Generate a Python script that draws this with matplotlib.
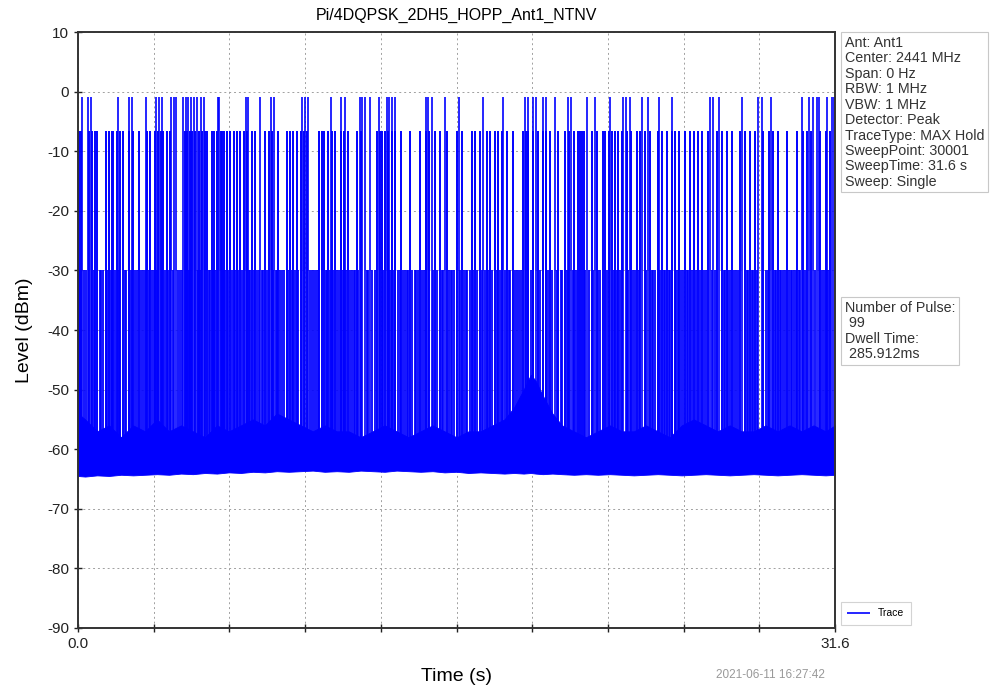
import matplotlib
matplotlib.use('Agg')
import matplotlib.pyplot as plt
import numpy as np

plt.rcParams['font.family'] = ['Liberation Sans', 'DejaVu Sans']
plt.rcParams['axes.unicode_minus'] = False

# sweep / info
sweep_time = 31.6
info_text = ('Ant: Ant1\nCenter: 2441 MHz\nSpan: 0 Hz\nRBW: 1 MHz\nVBW: 1 MHz\n'
             'Detector: Peak\nTraceType: MAX Hold\nSweepPoint: 30001\n'
             'SweepTime: 31.6 s\nSweep: Single')
pulse_text = 'Number of Pulse:\n 99\nDwell Time:\n 285.912ms'

# pulses hitting the centre channel (~ -1 dBm)
peak_times = [0.18, 0.42, 0.54, 1.68, 2.13, 2.27, 2.83, 3.24, 3.38, 3.52, 3.88,
              4.02, 4.10, 4.40, 4.51, 4.60, 4.72, 4.85, 4.95, 5.13, 5.25, 5.83,
              5.89, 7.00, 7.08, 7.60, 8.06, 8.19, 9.36, 9.48, 9.61, 10.56, 10.98,
              11.15, 11.77, 11.87, 11.98, 12.19, 12.57, 12.89, 12.98, 13.12,
              13.23, 14.51, 14.62, 14.77, 15.32, 15.90, 16.92, 17.75, 18.66,
              18.77, 19.01, 19.11, 19.42, 19.52, 19.91, 20.47, 20.58, 21.24,
              21.58, 22.21, 22.76, 22.86, 23.04, 23.53, 23.81, 24.25, 24.81,
              26.38, 26.52, 26.76, 27.73, 28.40, 28.54, 28.93, 30.21, 30.51,
              30.69, 30.84, 30.93, 31.25, 31.46, 31.56]
peak_level = -0.9

# adjacent channel pulses (~ -6.5 dBm)
mid_times = [0.05, 0.12, 0.45, 0.60, 0.70, 0.78, 1.16, 1.31, 1.41, 1.48, 1.62,
             1.75, 1.88, 2.15, 2.30, 2.55, 2.90, 3.00, 3.22, 3.32, 3.45, 3.56,
             3.70, 3.84, 4.45, 4.55, 4.67, 4.78, 4.90, 5.05, 5.17, 5.30, 5.37,
             5.58, 5.68, 5.80, 5.95, 6.00, 6.09, 6.20, 6.35, 6.51, 6.62, 6.76,
             6.93, 7.07, 7.25, 7.39, 7.81, 7.99, 8.09, 8.36, 8.71, 8.85, 8.99,
             9.13, 9.30, 9.45, 9.57, 10.07, 10.17, 10.27, 10.45, 10.60, 10.73,
             10.97, 11.10, 11.28, 11.63, 11.80, 12.47, 12.60, 12.68, 12.82,
             12.95, 13.10, 13.25, 13.50, 13.86, 14.28, 14.53, 14.67, 14.90,
             15.10, 15.39, 15.81, 16.02, 16.43, 16.57, 16.78, 17.06, 17.20,
             17.41, 17.55, 17.69, 17.90, 18.17, 18.59, 18.70, 18.80, 19.00,
             19.20, 19.40, 19.55, 19.70, 20.05, 20.33, 20.50, 20.70, 20.87,
             20.95, 21.03, 21.10, 21.44, 21.65, 21.90, 22.00, 22.18, 22.30,
             22.42, 22.55, 22.70, 22.90, 23.10, 23.32, 23.46, 23.65, 23.88,
             24.22, 24.36, 24.57, 24.78, 24.92, 25.10, 25.34, 25.55, 25.73,
             25.89, 26.04, 26.31, 26.66, 26.87, 27.08, 27.31, 27.64, 27.85,
             28.05, 28.26, 28.60, 28.86, 29.00, 29.20, 29.60, 30.03, 30.28,
             30.42, 30.60, 30.97, 31.22, 31.38]
mid_level = -6.5

# second adjacent channel pulses (~ -30 dBm)
low_times = [0.08, 0.25, 0.33, 0.65, 0.90, 0.98, 1.05, 1.22, 1.36, 1.55, 1.70,
             1.95, 2.02, 2.20, 2.40, 2.48, 2.62, 2.70, 2.78, 2.95, 3.10, 3.16,
             3.28, 3.62, 3.76, 3.95, 4.18, 4.25, 4.33, 4.62, 4.99, 5.10, 5.45,
             5.52, 5.63, 5.74, 6.05, 6.14, 6.28, 6.42, 6.57, 6.70, 6.85, 7.14,
             7.20, 7.33, 7.47, 7.55, 7.68, 7.74, 7.90, 8.14, 8.25, 8.30, 8.45,
             8.52, 8.60, 8.78, 8.92, 9.05, 9.20, 9.70, 9.77, 9.85, 9.93, 10.00,
             10.35, 10.40, 10.52, 10.66, 10.80, 10.88, 11.05, 11.20, 11.35,
             11.42, 11.50, 11.56, 11.70, 12.05, 12.12, 12.28, 12.38, 12.75,
             13.03, 13.17, 13.35, 13.42, 13.58, 13.65, 13.72, 13.79, 13.95,
             14.05, 14.12, 14.20, 14.37, 14.45, 14.83, 15.00, 15.18, 15.25,
             15.48, 15.55, 15.62, 15.70, 15.95, 16.10, 16.18, 16.25, 16.35,
             16.50, 16.65, 16.85, 17.00, 17.13, 17.30, 17.48, 17.62, 17.82,
             17.98, 18.05, 18.25, 18.32, 18.40, 18.48, 18.90, 19.30, 19.62,
             19.80, 19.98, 20.15, 20.22, 20.40, 20.64, 20.80, 21.17, 21.33,
             21.50, 21.72, 21.80, 22.08, 22.36, 22.48, 22.62, 22.96, 23.18,
             23.25, 23.40, 23.72, 23.95, 24.02, 24.10, 24.30, 24.45, 24.50,
             24.65, 24.72, 24.98, 25.04, 25.18, 25.25, 25.42, 25.48, 25.62,
             25.80, 25.96, 26.12, 26.20, 26.45, 26.58, 26.95, 27.00, 27.15,
             27.22, 27.40, 27.48, 27.55, 27.92, 27.98, 28.12, 28.19, 28.33,
             28.70, 28.78, 29.08, 29.13, 29.28, 29.35, 29.42, 29.50, 29.68,
             29.75, 29.82, 29.90, 29.96, 30.10, 30.15, 30.36, 30.77, 31.05,
             31.12, 31.30]
low_level = -30.0

# noise floor envelope (max hold)
env_t = [0.0, 0.3, 0.8, 1.3, 1.8, 2.3, 2.8, 3.3, 3.8, 4.3, 4.8, 5.3, 5.8, 6.3,
         6.8, 7.3, 7.8, 8.3, 8.8, 9.3, 9.8, 10.3, 10.8, 11.3, 11.8, 12.3, 12.8,
         13.3, 13.8, 14.3, 14.8, 15.3, 15.8, 16.3, 16.8, 17.3, 17.8, 18.2,
         18.6, 18.9, 19.1, 19.4, 19.8, 20.2, 20.7, 21.2, 21.7, 22.2, 22.7,
         23.2, 23.7, 24.2, 24.7, 25.2, 25.7, 26.2, 26.7, 27.2, 27.7, 28.2,
         28.7, 29.2, 29.7, 30.2, 30.7, 31.2, 31.6]
env_top = [-54, -55, -57, -56, -58, -56, -57, -55, -57, -56, -57, -58, -56,
           -57, -56, -55, -56, -54, -55, -56, -57, -56, -57, -57, -58, -57,
           -56, -57, -58, -57, -56, -57, -58, -57, -57, -56, -55, -53, -50,
           -47.5, -48.5, -51, -54, -56, -57, -58, -57, -56, -57, -57, -56,
           -57, -58, -56, -55, -56, -57, -56, -57, -57, -56, -57, -56, -57,
           -56, -57, -56]
env_bot = [-64.5, -64.6, -64.4, -64.5, -64.3, -64.4, -64.3, -64.2, -64.3,
           -64.1, -64.2, -64.0, -64.1, -63.9, -64.0, -63.8, -63.9, -63.7,
           -63.8, -63.7, -63.6, -63.8, -63.7, -63.8, -63.6, -63.7, -63.8,
           -63.6, -63.7, -63.8, -63.7, -63.9, -63.8, -64.0, -63.9, -64.0,
           -64.1, -64.0, -64.1, -64.0, -64.1, -64.2, -64.1, -64.2, -64.3,
           -64.2, -64.3, -64.2, -64.3, -64.4, -64.3, -64.2, -64.3, -64.4,
           -64.3, -64.2, -64.3, -64.4, -64.3, -64.2, -64.3, -64.4, -64.3,
           -64.2, -64.3, -64.4, -64.3]

trace_color = '#0000ff'

fig = plt.figure(figsize=(9.93, 6.93), dpi=100)
ax = fig.add_axes([0.0785, 0.094, 0.7625, 0.8595])
ax.set_axisbelow(True)

# noise floor
ax.fill_between(env_t, env_bot, env_top, color=trace_color, linewidth=0.6,
                edgecolor=trace_color)

# pulses
floor_of = lambda t: np.interp(t, env_t, env_bot)
ax.vlines(low_times, floor_of(low_times), low_level, color=trace_color,
          linewidth=1.3)
ax.vlines(mid_times, floor_of(mid_times), mid_level, color=trace_color,
          linewidth=1.4)
ax.vlines(peak_times, floor_of(peak_times), peak_level, color=trace_color,
          linewidth=1.2, label='Trace')

ax.set_xlim(0, sweep_time)
ax.set_ylim(-90, 10)
ax.set_yticks(np.arange(-90, 11, 10))
xt = np.linspace(0, sweep_time, 11)
ax.set_xticks(xt)
ax.set_xticklabels(['0.0'] + [''] * 9 + ['31.6'])
ax.tick_params(direction='inout', length=6, width=1, labelsize=11,
               colors='#222222')
ax.grid(True, color='#a0a0a0', linestyle=(0, (2, 3)), linewidth=0.7)
for sp in ax.spines.values():
    sp.set_color('#333333')
    sp.set_linewidth(1.4)

ax.set_title('Pi/4DQPSK_2DH5_HOPP_Ant1_NTNV', fontsize=11.5, pad=9)
ax.set_ylabel('Level (dBm)', fontsize=14, labelpad=10)
ax.set_xlabel('Time (s)', fontsize=14, labelpad=12)

box = dict(boxstyle='square,pad=0.25', facecolor='white', edgecolor='#c8c8c8',
           linewidth=0.8)
fig.text(0.8505, 0.948, info_text, fontsize=10.3, va='top', ha='left',
         linespacing=1.13, color='#333333', bbox=box)
fig.text(0.8505, 0.566, pulse_text, fontsize=10.3, va='top', ha='left',
         linespacing=1.13, color='#333333', bbox=box)

leg = ax.legend(loc='lower left', bbox_to_anchor=(1.003, 0.0), fontsize=7.5,
                frameon=True, fancybox=False, edgecolor='#c8c8c8',
                handlelength=2.2, borderaxespad=0.3, borderpad=0.6)
leg.get_frame().set_linewidth(0.8)

fig.text(0.776, 0.018, '2021-06-11 16:27:42', fontsize=8.5, color='#999999',
         ha='center', va='bottom')

fig.savefig('out.png', dpi=100)
